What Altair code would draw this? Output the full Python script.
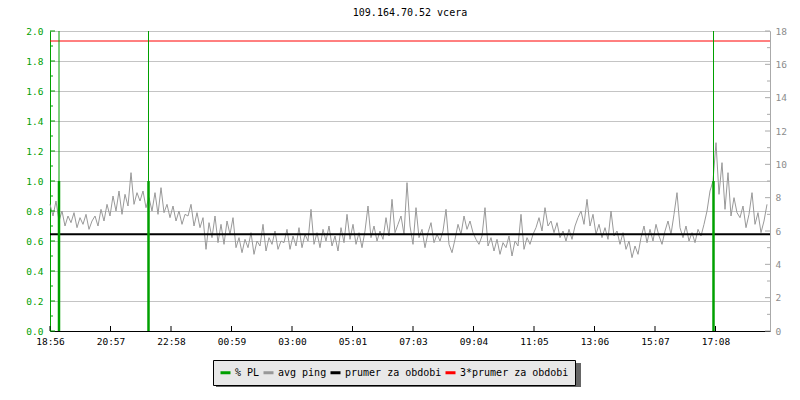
import altair as alt
import pandas as pd

# ---------------- data ----------------
title_text = "109.164.70.52 vcera"
time_labels = ["18:56", "20:57", "22:58", "00:59", "03:00", "05:01",
               "07:03", "09:04", "11:05", "13:06", "15:07", "17:08"]
tick_minutes = [0, 121, 242, 363, 484, 605, 726, 847, 968, 1089, 1210, 1331]

ping_step_min = 6
ping_ms = [
    7.6, 6.9, 7.8, 6.6, 7.2, 6.3, 6.9, 6.5, 7.1, 6.2,
    6.8, 6.4, 7.0, 6.1, 6.6, 6.9, 6.3, 7.3, 6.6, 7.6,
    6.9, 8.1, 7.2, 8.4, 7.0, 8.2, 7.5, 9.5, 7.6, 8.3,
    7.8, 8.4, 7.4, 8.0, 7.2, 8.3, 7.0, 8.6, 7.1, 7.6,
    6.8, 7.5, 6.6, 7.2, 6.4, 7.0, 6.9, 7.6, 6.3, 7.1,
    6.2, 6.8, 4.9, 6.5, 5.6, 6.9, 5.3, 6.4, 5.2, 6.6,
    5.8, 6.8, 5.0, 5.6, 4.7, 5.5, 5.0, 5.9, 4.6, 5.4,
    5.1, 6.4, 4.8, 5.6, 5.2, 6.0, 4.9, 5.4, 5.3, 6.1,
    4.9, 5.7, 5.1, 6.2, 5.0, 5.8, 5.4, 7.3, 5.2, 5.9,
    5.0, 6.1, 5.4, 6.3, 5.1, 5.7, 4.8, 6.2, 5.3, 7.0,
    5.5, 6.4, 5.2, 5.9, 5.0, 6.0, 7.5, 5.6, 6.3, 5.4,
    6.0, 5.5, 6.8, 5.7, 7.9, 5.9, 6.4, 6.9, 5.8, 8.9,
    6.3, 5.2, 7.4, 5.6, 6.1, 5.0, 5.9, 6.5, 5.3, 5.8,
    5.4, 6.0, 7.3, 5.2, 4.7, 5.5, 6.4, 5.8, 6.9, 6.1,
    6.6, 5.9, 5.5, 5.2, 5.7, 7.4, 5.1, 5.6, 4.8, 5.5,
    4.6, 5.3, 5.0, 5.7, 4.5, 5.4, 5.1, 7.0, 4.9, 5.6,
    5.2, 5.8, 6.2, 6.8, 6.0, 7.4, 6.3, 6.6, 5.9, 6.5,
    5.6, 6.0, 5.4, 6.1, 5.5, 6.3, 6.8, 7.2, 6.4, 7.9,
    6.3, 7.0, 5.8, 6.4, 5.6, 6.2, 5.5, 7.2, 5.7, 6.0,
    5.2, 5.9, 4.9, 5.4, 4.4, 5.1, 4.6, 5.6, 6.3, 5.3,
    6.1, 5.4, 6.4, 5.7, 5.2, 6.0, 6.6, 5.8, 7.0, 8.3,
    6.2, 5.6, 6.3, 5.4, 5.9, 5.3, 6.1, 5.7, 6.4, 7.2,
    8.4, 9.0, 11.3, 8.2, 10.1, 7.3, 9.5, 6.9, 8.0, 7.1,
    6.8, 7.5, 6.2, 7.0, 8.3, 6.4, 7.1, 5.9, 6.6, 7.6,
]
ping_mean = [5.8]
ping_mean3 = [17.4]

pl_minutes = [18, 197, 1327]
pl_percent = [1.0, 1.0, 1.0]
pl_clipped = [2.0, 2.0, 2.0]

series_names = ["% PL", "avg ping", "prumer za obdobi", "3*prumer za obdobi"]
series_colors = ["#00a000", "#999999", "#000000", "#ff0000"]

left_major = [0.0, 0.2, 0.4, 0.6, 0.8, 1.0, 1.2, 1.4, 1.6, 1.8, 2.0]
left_minor = [0.1, 0.3, 0.5, 0.7, 0.9, 1.1, 1.3, 1.5, 1.7, 1.9]
right_major = [0, 2, 4, 6, 8, 10, 12, 14, 16, 18]
right_minor = [1, 3, 5, 7, 9, 11, 13, 15, 17]

# ---------------- chart ----------------
FONT = "DejaVu Sans Mono"
W, H = 720, 300

label_expr = "[" + ",".join("'%s'" % s for s in time_labels) + "][round(datum.value/121)]"

x_enc = alt.X(
    "t:Q",
    scale=alt.Scale(domain=[0, 1440], nice=False, zero=False),
    axis=alt.Axis(values=tick_minutes, labelExpr=label_expr, title=None,
                  ticks=False, tickSize=0, grid=False, domainColor="black",
                  labelColor="black", labelPadding=5, labelFont=FONT,
                  labelFontSize=9.5, labelFlush=False),
)

legend = alt.Legend(orient="none", legendX=163, legendY=329, direction="horizontal",
                    title=None, fillColor="#e8e8e8", strokeColor="black", padding=6,
                    labelFont=FONT, labelFontSize=10, labelColor="black",
                    symbolType="stroke", symbolSize=100, symbolStrokeWidth=3,
                    columnPadding=-3, labelOffset=3)
color_enc = alt.Color("s:N", scale=alt.Scale(domain=series_names, range=series_colors),
                      legend=legend)

y_right = alt.Y("v:Q", scale=alt.Scale(domain=[0, 18], nice=False, zero=True),
                axis=alt.Axis(orient="right", values=right_major, title=None, ticks=False,
                              tickSize=0, grid=False, domainColor="#aaaaaa",
                              labelColor="#8c8c8c", labelPadding=5, labelFont=FONT,
                              labelFontSize=9.5))
y_left = alt.Y("p:Q", scale=alt.Scale(domain=[0, 2], nice=False, zero=True),
               axis=alt.Axis(orient="left", values=left_major, format=".1f", title=None,
                             ticks=False, tickSize=0, grid=True, gridColor="#c4c4c4",
                             domainColor="#00a000", labelColor="#00a000", labelPadding=7,
                             labelFont=FONT, labelFontSize=9.5))

ping_df = pd.DataFrame({"t": [i * ping_step_min for i in range(len(ping_ms))],
                        "v": ping_ms, "s": "avg ping"})
mean_df = pd.DataFrame({"v": ping_mean, "s": "prumer za obdobi"})
mean3_df = pd.DataFrame({"v": ping_mean3, "s": "3*prumer za obdobi"})
rmaj_df = pd.DataFrame({"v": right_major})
rmin_df = pd.DataFrame({"v": right_minor})

ping_line = alt.Chart(ping_df).mark_line(strokeWidth=1).encode(
    x=x_enc, y=y_right, color=color_enc)
mean_rule = alt.Chart(mean_df).mark_rule(strokeWidth=2).encode(y=y_right, color=color_enc)
mean3_rule = alt.Chart(mean3_df).mark_rule(strokeWidth=1).encode(y=y_right, color=color_enc)
rtick_major = alt.Chart(rmaj_df).mark_rule(strokeWidth=1, color="#aaaaaa").encode(
    y=y_right, x=alt.value(W), x2=alt.value(W - 5))
rtick_minor = alt.Chart(rmin_df).mark_rule(strokeWidth=1, color="#aaaaaa").encode(
    y=y_right, x=alt.value(W), x2=alt.value(W - 3))

ping_layer = alt.layer(ping_line, mean_rule, mean3_rule, rtick_major, rtick_minor)

pl_df = pd.DataFrame({"t": pl_minutes, "p": pl_percent, "s": "% PL"})
pl_top_df = pd.DataFrame({"t": pl_minutes, "p": pl_clipped, "s": "% PL"})
lmaj_df = pd.DataFrame({"p": left_major})
lmin_df = pd.DataFrame({"p": left_minor})
xt_df = pd.DataFrame({"t": tick_minutes})

pl_thin = alt.Chart(pl_top_df).mark_rule(strokeWidth=1).encode(
    x=x_enc, y=y_left, y2=alt.datum(0), color=color_enc)
pl_thick = alt.Chart(pl_df).mark_rule(strokeWidth=2.5).encode(
    x=x_enc, y=y_left, y2=alt.datum(0), color=color_enc)
ltick_major = alt.Chart(lmaj_df).mark_rule(strokeWidth=1, color="#00a000").encode(
    y=y_left, x=alt.value(0), x2=alt.value(5))
ltick_minor = alt.Chart(lmin_df).mark_rule(strokeWidth=1, color="#00a000").encode(
    y=y_left, x=alt.value(0), x2=alt.value(3))
xticks = alt.Chart(xt_df).mark_rule(strokeWidth=1, color="black").encode(
    x=x_enc, y=alt.value(H), y2=alt.value(H - 5))

pl_layer = alt.layer(ltick_major, ltick_minor, xticks, pl_thin, pl_thick)

shadow = alt.Chart(pd.DataFrame({"a": [0]})).mark_rect(color="#666666").encode(
    x=alt.value(166), x2=alt.value(531), y=alt.value(332), y2=alt.value(356))

chart = alt.layer(ping_layer, pl_layer, shadow).resolve_scale(y="independent").properties(
    width=W, height=H,
    title=alt.TitleParams(title_text, font=FONT, fontSize=10, fontWeight="normal",
                          color="black", anchor="middle", baseline="bottom", offset=-2),
    autosize=alt.AutoSizeParams(type="none"),
    padding={"left": 42, "top": 23, "right": 20, "bottom": 61},
).configure_view(stroke=None).configure(background="white")

chart.save("out.html", embed_options={"renderer": "svg", "actions": False})
